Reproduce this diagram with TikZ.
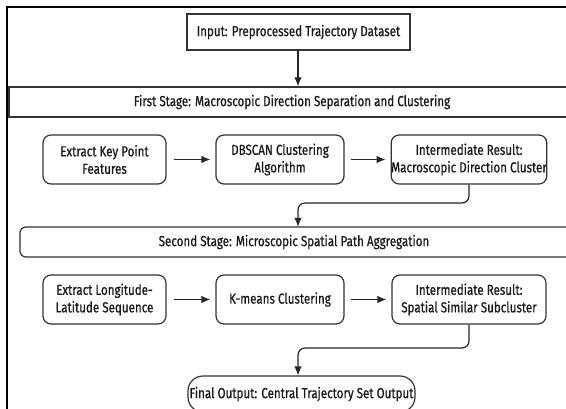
\documentclass[tikz,border=0pt]{standalone}
\usepackage{fontspec}
\setmainfont[FakeStretch=0.8, FakeBold=0.6]{Fira Sans}
\usetikzlibrary{arrows.meta}
\begin{document}
\begin{tikzpicture}[x=1pt,y=-1pt,
  txt/.style={font=\fontsize{14.5}{17.5}\selectfont, text=black!90, align=center, inner sep=0pt},
  plainbox/.style={txt, draw=black!80, line width=1.2pt},
  stepbox/.style={plainbox, rounded corners=8pt},
  stagebox/.style={plainbox},
  finalbox/.style={plainbox, rounded corners=15pt},
  conn/.style={draw=black!85, line width=1.2pt, -{Latex[length=9pt,width=7.5pt]}},
  frame/.style={draw=black, line width=2.2pt}]
\useasboundingbox (0,0) rectangle (566,408);
\fill[white] (0,0) rectangle (566,408);
\draw[frame] (7,420) -- (7,7) -- (580,7);

\node[plainbox, minimum width=223pt, minimum height=36pt] (input) at (298.5,32) {Input: Preprocessed Trajectory Dataset};
\node[stagebox, minimum width=566pt, minimum height=30pt] (stage1) at (292,102) {First Stage: Macroscopic Direction Separation and Clustering};

\node[stepbox, minimum width=123pt, minimum height=49pt] (a) at (104.5,159.5) {Extract Key Point\\Features};
\node[stepbox, minimum width=128pt, minimum height=49pt] (b) at (280,159.5) {DBSCAN Clustering\\Algorithm};
\node[stepbox, minimum width=154pt, minimum height=49pt] (c) at (469,159.5) {Intermediate Result:\\Macroscopic Direction Cluster};

\draw[plainbox, rounded corners=6pt] (580,227) -- (20,227) -- (20,257) -- (580,257);
\node[txt, minimum width=552pt, minimum height=30pt] (stage2) at (294,242) {Second Stage: Microscopic Spatial Path Aggregation};

\node[stepbox, minimum width=123pt, minimum height=49pt] (d) at (104.5,299.5) {Extract Longitude-\\Latitude Sequence};
\node[stepbox, minimum width=128pt, minimum height=49pt] (e) at (280,299.5) {K-means Clustering};
\node[stepbox, minimum width=154pt, minimum height=49pt] (f) at (469,299.5) {Intermediate Result:\\Spatial Similar Subcluster};

\node[finalbox, minimum width=227pt, minimum height=36pt] (final) at (301.5,394) {Final Output: Central Trajectory Set Output};

\coordinate (k1) at (298,203);
\coordinate (k2) at (298,348);

\draw[conn] (input.south -| 298,0) -- (stage1.north -| 298,0);
\draw[conn, shorten <=7pt, shorten >=5pt] (a) -- (b);
\draw[conn, shorten <=6pt, shorten >=5pt] (b) -- (c);
\draw[conn, rounded corners=7pt] (c.south) |- (k1) -- (stage2.north -| k1);
\draw[conn, shorten <=7pt, shorten >=5pt] (d) -- (e);
\draw[conn, shorten <=6pt, shorten >=5pt] (e) -- (f);
\draw[conn, rounded corners=7pt] (f.south) |- (k2) -- (final.north -| k2);
\end{tikzpicture}
\end{document}
